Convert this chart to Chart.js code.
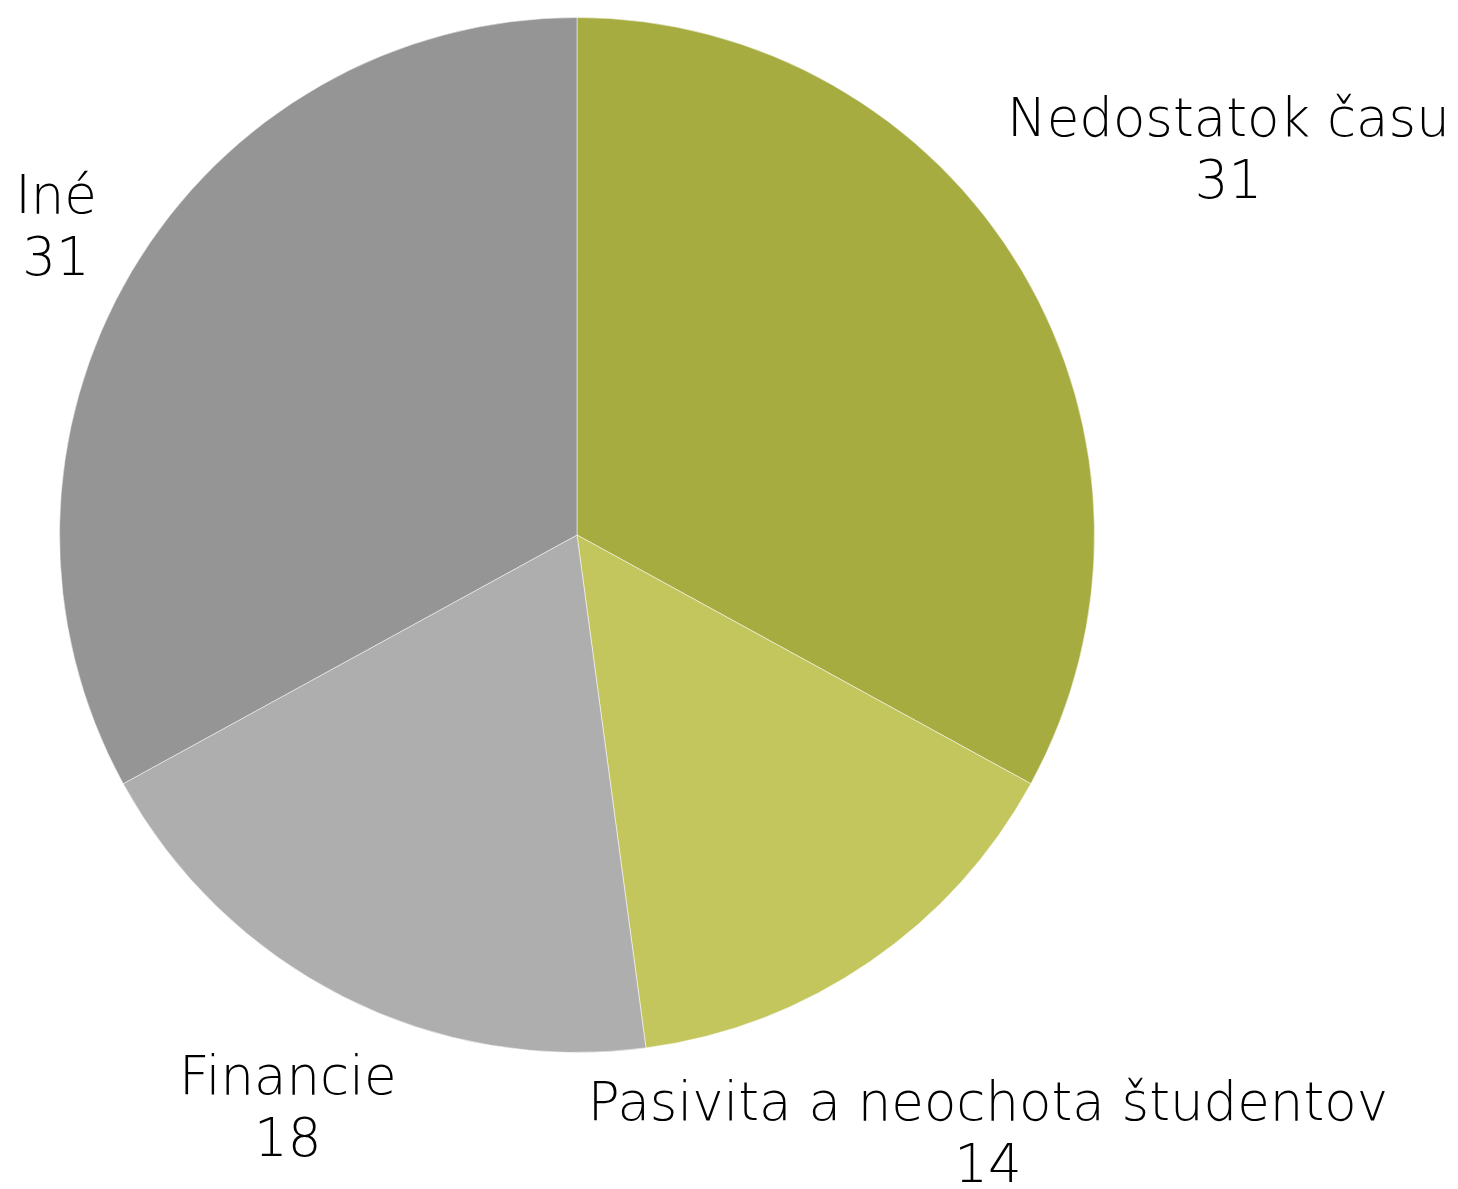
<!DOCTYPE html>
<html>
<head>
<meta charset="utf-8">
<script src="https://cdn.jsdelivr.net/npm/chart.js@4/dist/chart.umd.min.js"></script>
<style>
    html, body { margin: 0; padding: 0; background: #ffffff; }
    #wrap { width: 1458px; height: 1189px; position: relative; }
</style>
</head>
<body>
<div id="wrap"><canvas id="chart-pie"></canvas></div>
<script>
const categories = ['Nedostatok času', 'Pasivita a neochota študentov', 'Financie', 'Iné'];
const values = [31, 14, 18, 31];
const sliceColors = ['#a7ac41', '#c3c65c', '#aeaeae', '#959595'];

// popisky mimo kruhu: nazov + hodnota, stred bloku na osi vysece
const outerLabels = {
    id: 'outerLabels',
    afterDraw: function (chart) {
        const ctx = chart.ctx;
        const meta = chart.getDatasetMeta(0);
        const lineH = 62;
        // vzdialenost stredu popisku od stredu kruhu, v nasobkoch polomeru
        const dist = [1.463, 1.403, 1.239, 1.170];
        ctx.save();
        ctx.font = '300 53px "DejaVu Sans", sans-serif';
        ctx.fillStyle = '#000000';
        ctx.textAlign = 'center';
        ctx.textBaseline = 'middle';
        meta.data.forEach(function (arc, i) {
            const p = arc.getProps(['x', 'y', 'startAngle', 'endAngle', 'outerRadius'], true);
            const mid = (p.startAngle + p.endAngle) / 2;
            const cx = p.x + Math.cos(mid) * p.outerRadius * dist[i];
            const cy = p.y + Math.sin(mid) * p.outerRadius * dist[i] + 4;
            const lines = [categories[i], String(values[i])];
            const h = lines.length * lineH;
            lines.forEach(function (t, k) {
                ctx.fillText(t, cx, cy - h / 2 + lineH * (k + 0.5));
            });
        });
        ctx.restore();
    }
};

new Chart(document.getElementById('chart-pie').getContext('2d'), {
    type: 'pie',
    data: {
        labels: categories,
        datasets: [{
            data: values,
            backgroundColor: sliceColors,
            borderColor: 'rgba(255,255,255,0.5)',
            borderWidth: 1
        }]
    },
    options: {
        responsive: true,
        maintainAspectRatio: false,
        animation: false,
        layout: { padding: { left: 59, right: 363, top: 17, bottom: 136 } },
        plugins: {
            legend: { display: false },
            tooltip: { enabled: false }
        }
    },
    plugins: [outerLabels]
});
</script>
</body>
</html>
